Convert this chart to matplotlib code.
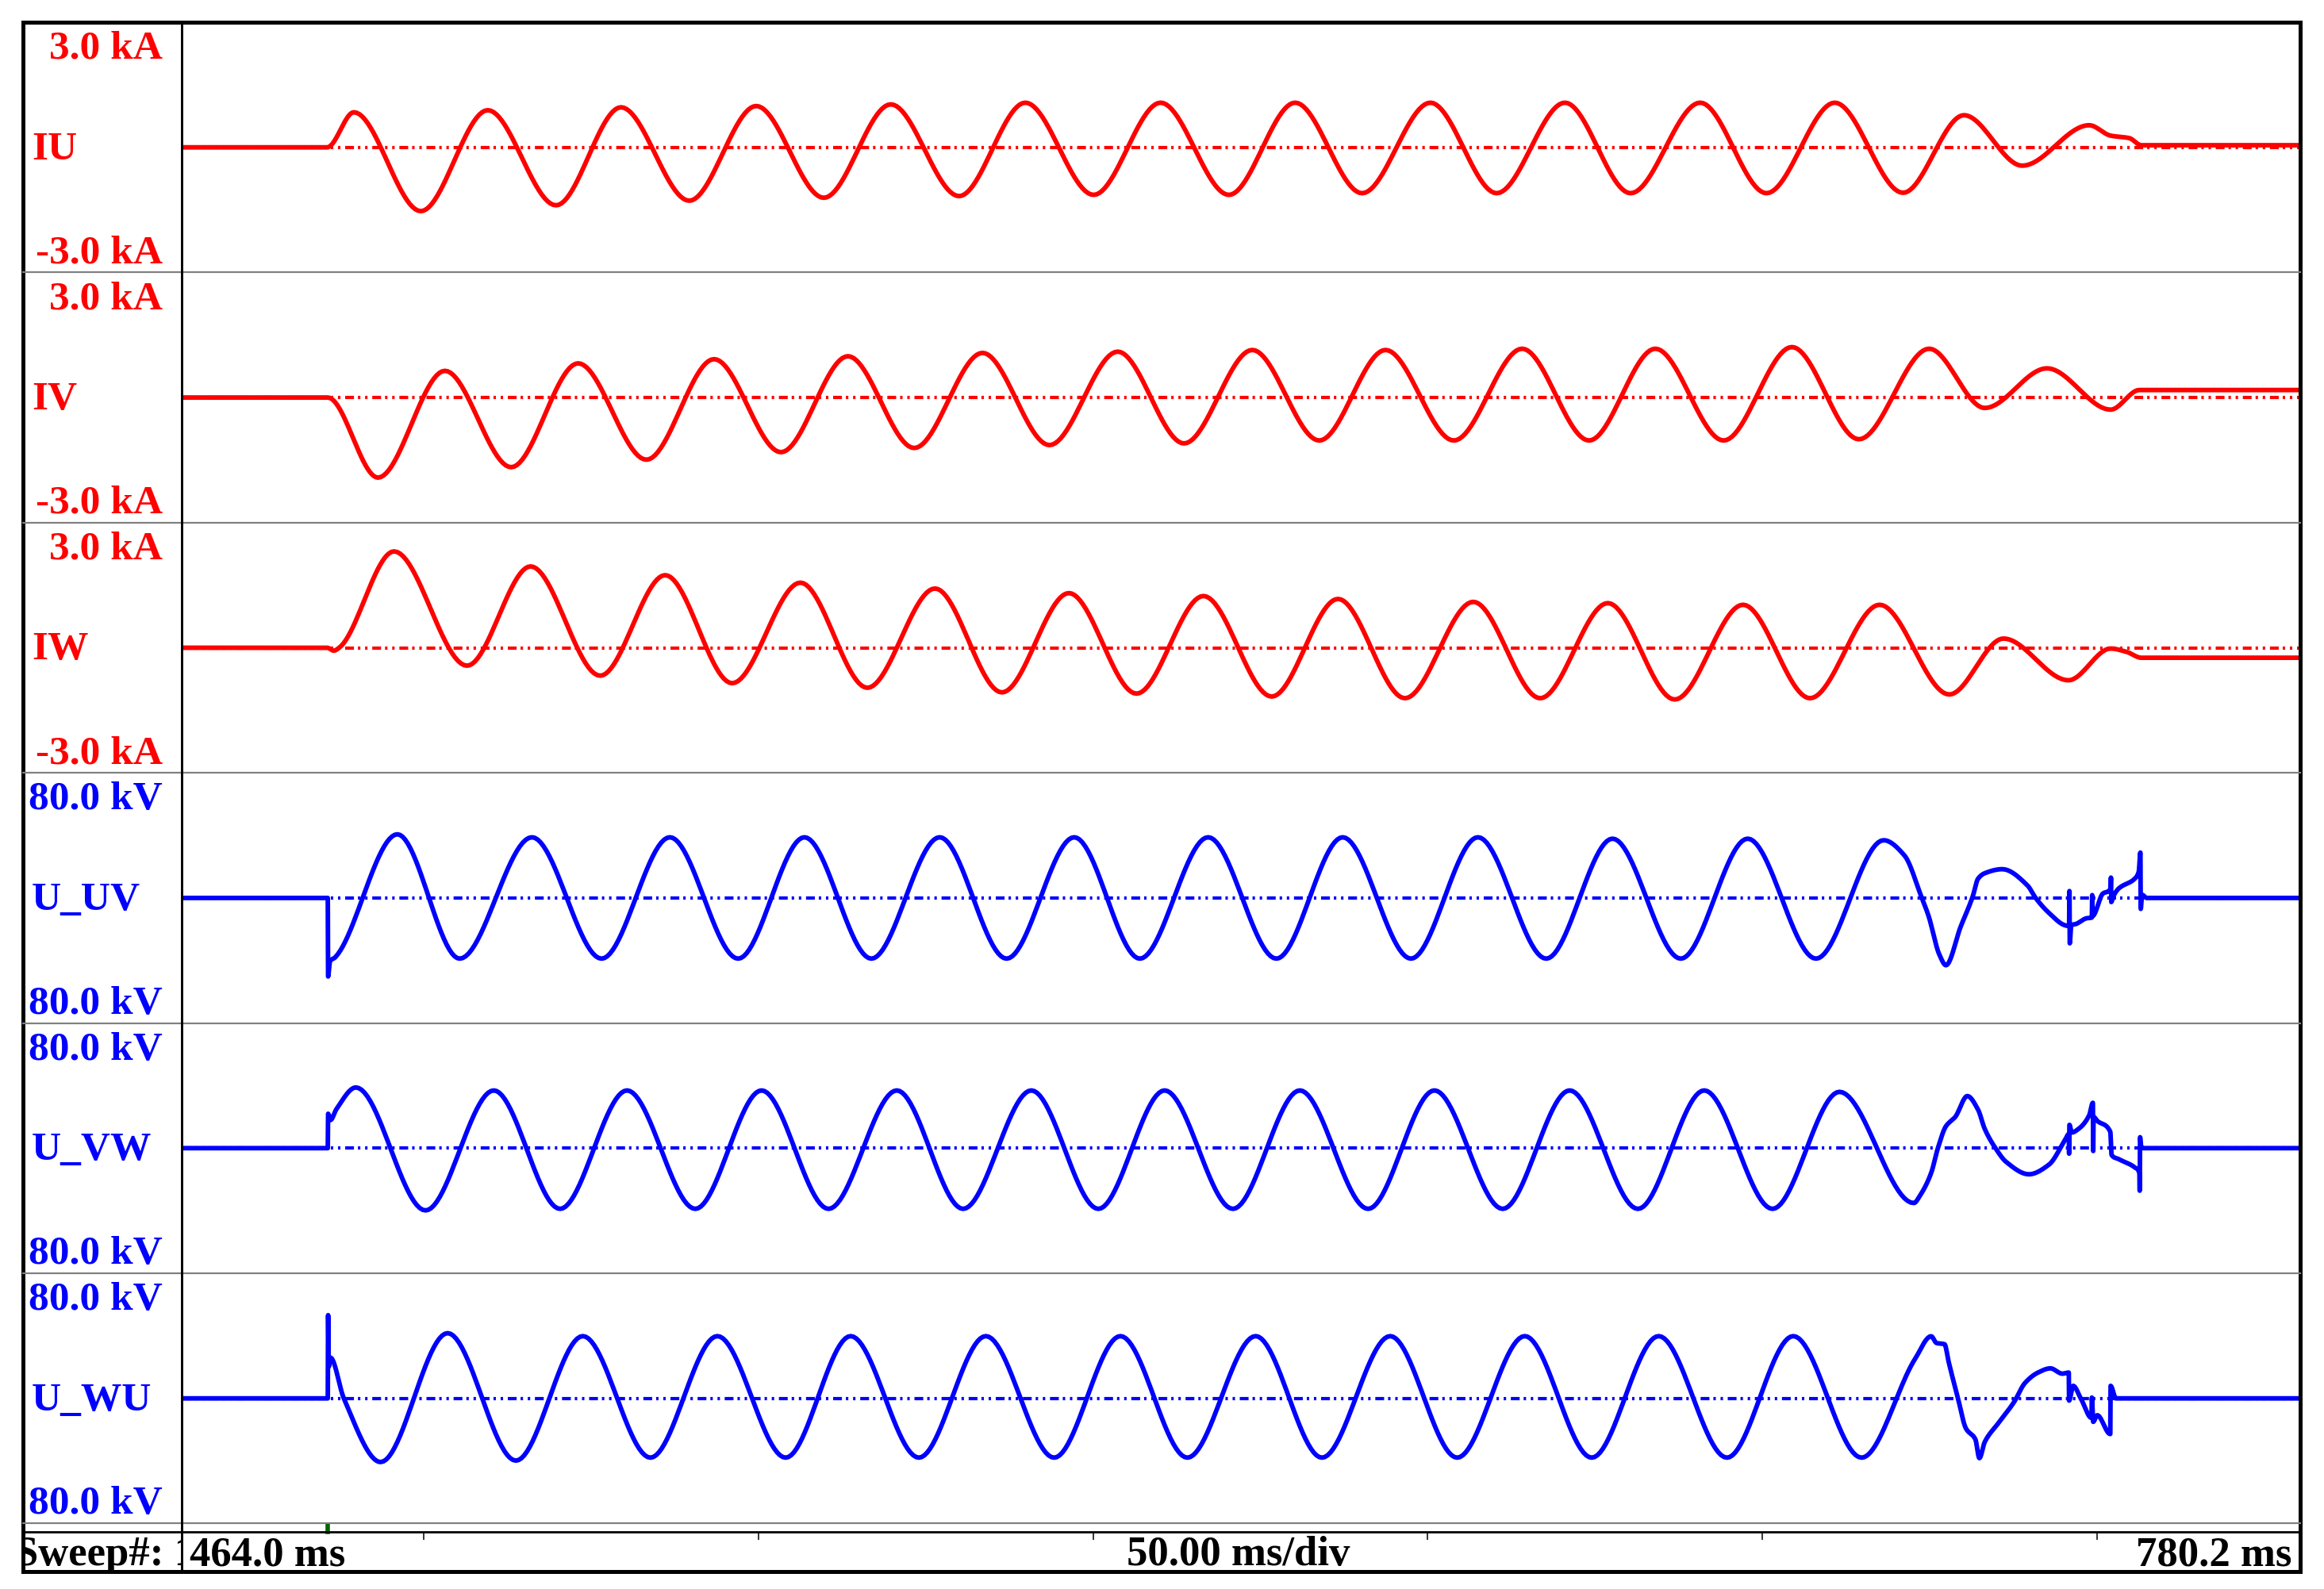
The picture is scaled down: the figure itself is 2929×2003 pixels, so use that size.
# Fault recording: phase currents IU/IV/IW and line voltages U_UV/U_VW/U_WU
import numpy as np
import matplotlib
matplotlib.use("Agg")
import matplotlib.pyplot as plt
from matplotlib.patches import Rectangle
from matplotlib.transforms import Bbox, TransformedBbox

plt.rcParams['lines.scale_dashes'] = False

# time window of the sweep (ms)
t_start = 464.0
t_end = 780.2
tick_ms = [500, 550, 600, 650, 700, 750]
trigger_ms = 485.7

# channel descriptions
names = ["IU", "IV", "IW", "U_UV", "U_VW", "U_WU"]
top_labels = ["3.0 kA", "3.0 kA", "3.0 kA", "80.0 kV", "80.0 kV", "80.0 kV"]
bottom_labels = ["-3.0 kA", "-3.0 kA", "-3.0 kA", "80.0 kV", "80.0 kV", "80.0 kV"]
full_scale = [3.0, 3.0, 3.0, 80.0, 80.0, 80.0]
colors = ["#ff0000"] * 3 + ["#0000ff"] * 3

# waveform turning points (time ms, value kA / kV)
iu_t = [464.0, 485.6, 489.6, 499.6, 509.6, 519.8, 529.5, 539.7, 549.7, 559.8, 569.8, 580.0,
        589.9, 600.1, 610.1, 620.3, 630.2, 640.2, 650.4, 660.3, 670.5, 680.3, 690.7, 700.6,
        710.8, 721.0, 730.1, 738.8, 748.8, 752.0, 754.8, 756.6, 780.2]
iu_v = [0, 0, 0.84, -1.53, 0.89, -1.39, 0.96, -1.28, 0.99, -1.21, 1.03, -1.17,
        1.07, -1.14, 1.07, -1.14, 1.07, -1.10, 1.07, -1.10, 1.07, -1.10, 1.07, -1.10,
        1.07, -1.09, 0.77, -0.44, 0.53, 0.28, 0.22, 0.05, 0.05]

iv_t = [464.0, 485.7, 493.2, 503.2, 513.1, 523.1, 533.3, 543.4, 553.4, 563.4, 573.3, 583.5,
        593.5, 603.7, 613.6, 623.8, 633.8, 643.7, 653.9, 664.1, 674.1, 684.0, 694.2, 704.4,
        714.4, 724.9, 733.2, 742.5, 752.0, 756.3, 780.2]
iv_v = [0, 0, -1.92, 0.64, -1.67, 0.82, -1.49, 0.92, -1.31, 0.99, -1.21, 1.07,
        -1.14, 1.10, -1.10, 1.14, -1.03, 1.14, -1.03, 1.17, -1.03, 1.17, -1.03, 1.21,
        -1.00, 1.17, -0.25, 0.70, -0.29, 0.18, 0.18]

iw_t = [464.0, 485.6, 486.6, 487.4, 495.6, 506.5, 516.0, 526.4, 536.1, 546.1, 556.3, 566.3,
        576.4, 586.4, 596.4, 606.5, 616.5, 626.7, 636.6, 646.6, 656.8, 666.8, 676.9, 686.9,
        697.1, 707.1, 717.5, 727.9, 736.0, 745.7, 752.0, 754.4, 756.6, 780.2]
iw_v = [0, 0, -0.07, 0, 2.31, -0.43, 1.95, -0.67, 1.74, -0.85, 1.56, -0.96,
        1.42, -1.07, 1.31, -1.10, 1.24, -1.17, 1.17, -1.21, 1.10, -1.21, 1.07, -1.24,
        1.03, -1.21, 1.03, -1.12, 0.22, -0.78, -0.02, -0.10, -0.24, -0.24]

uv_t = [464.0, 485.7, 485.75, 486.0, 486.8, 496.1, 505.4, 516.2, 526.6, 536.8, 547.0, 556.9,
        566.9, 577.1, 587.1, 597.2, 607.0, 617.2, 627.4, 637.3, 647.5, 657.5, 667.7, 677.6,
        687.8, 697.8, 708.0, 718.1, 721.2, 723.8, 724.8, 726.4, 727.4, 729.6, 731.4, 732.2,
        733.2, 735.8, 739.6, 740.8, 742.8, 745.2, 745.8, 745.85, 745.9, 746.1, 746.8, 748.4,
        749.2, 749.25, 749.3, 750.8, 752.0, 752.05, 752.1, 752.4, 753.2, 755.6, 756.2, 756.45,
        756.5, 756.7, 757.4, 780.2]
uv_v = [0, 0, -50.2, -40.7, -38.0, 40.7, -38.8, 38.8, -38.8, 38.8, -38.8, 38.8,
        -38.8, 38.8, -38.8, 38.8, -38.8, 38.8, -38.8, 38.8, -38.8, 38.8, -38.8, 37.9,
        -38.8, 37.9, -38.8, 36.9, 27.2, 0.0, -11.4, -36.0, -43.0, -18.4, 0.9, 12.3,
        15.8, 18.4, 7.9, 0.0, -9.6, -17.5, -18.0, 4.4, -29.0, -17.5, -16.7, -13.0,
        -12.5, 1.8, -11.5, 2.6, 6.0, 13.0, -2.6, 1.0, 6.0, 12.3, 16.7, 29.0,
        -7.0, 2.0, 0.0, 0.0]

vw_t = [464.0, 485.7, 485.75, 486.1, 487.0, 489.9, 500.3, 510.5, 520.4, 530.4, 540.6, 550.5,
        560.5, 570.7, 580.6, 590.8, 600.8, 610.7, 620.9, 630.9, 641.1, 651.0, 661.2, 671.2,
        681.4, 691.3, 701.5, 711.5, 722.6, 723.6, 725.2, 726.2, 727.4, 728.8, 730.6, 732.2,
        733.2, 734.8, 736.4, 739.8, 742.8, 745.2, 745.75, 745.8, 745.85, 746.2, 747.2, 748.8,
        749.35, 749.4, 749.45, 750.0, 751.95, 752.15, 753.2, 755.6, 756.3, 756.35, 756.4, 756.6,
        780.2]
vw_v = [0, 0, 22.0, 18.0, 25.0, 38.8, -39.8, 36.9, -38.8, 36.9, -38.8, 36.9,
        -38.8, 36.9, -38.8, 36.9, -38.8, 36.9, -38.8, 36.9, -38.8, 36.9, -38.8, 36.9,
        -38.8, 36.9, -38.8, 36.0, -35.1, -29.8, -15.8, 0.0, 14.0, 20.0, 33.3, 24.6,
        12.3, 0.0, -8.8, -16.7, -10.5, 5.3, 9.0, -3.5, 14.9, 10.0, 12.3, 21.0,
        29.0, -1.8, 20.0, 17.5, 10.5, -4.4, -7.0, -12.3, -16.0, -27.2, 7.0, 0.0,
        0.0]

wu_t = [464.0, 485.7, 485.75, 485.85, 486.1, 488.1, 493.6, 503.6, 513.8, 523.8, 533.9, 543.9,
        554.1, 563.8, 574.0, 584.0, 594.2, 604.1, 614.1, 624.3, 634.2, 644.4, 654.4, 664.5,
        674.5, 684.5, 694.7, 704.6, 714.8, 722.8, 725.2, 726.0, 727.2, 727.8, 729.2, 730.4,
        731.8, 732.4, 733.2, 735.2, 737.6, 739.2, 741.2, 743.0, 744.8, 745.75, 745.8, 746.4,
        747.6, 749.15, 749.2, 749.4, 750.0, 751.95, 752.0, 752.8, 780.2]
wu_v = [0, 0, 53.2, 20.3, 26.0, 0.0, -40.7, 41.7, -39.8, 39.8, -37.9, 39.8,
        -37.9, 39.8, -37.9, 39.8, -37.9, 39.8, -37.9, 39.8, -37.9, 39.8, -37.9, 39.8,
        -37.9, 39.8, -37.9, 39.8, -37.9, 25.3, 39.7, 35.4, 34.6, 23.5, 0.0, -19.3,
        -26.2, -38.2, -27.9, -16.0, -2.2, 9.8, 16.6, 19.2, 15.8, 16.5, -1.4, 8.0,
        -0.5, -12.5, 0.5, -15.0, -10.8, -22.8, 8.0, 0.0, 0.0]

traces = [(iu_t, iu_v), (iv_t, iv_v), (iw_t, iw_v), (uv_t, uv_v), (vw_t, vw_v), (wu_t, wu_v)]


# monotone cubic (pchip) through the turning points, for a smooth scope trace
def smooth_trace(t, v, per_seg=24):
    t = np.asarray(t, float)
    v = np.asarray(v, float)
    h = np.diff(t)
    d = np.diff(v) / h
    m = np.zeros_like(v)
    for k in range(1, len(v) - 1):
        if d[k - 1] * d[k] > 0:
            w1 = 2 * h[k] + h[k - 1]
            w2 = h[k] + 2 * h[k - 1]
            m[k] = (w1 + w2) / (w1 / d[k - 1] + w2 / d[k])
    s = np.linspace(0, 1, per_seg, endpoint=False)
    h00 = 2 * s**3 - 3 * s**2 + 1
    h10 = s**3 - 2 * s**2 + s
    h01 = -2 * s**3 + 3 * s**2
    h11 = s**3 - s**2
    xs, ys = [], []
    for k in range(len(h)):
        xs.append(t[k] + s * h[k])
        ys.append(h00 * v[k] + h10 * h[k] * m[k] + h01 * v[k + 1] + h11 * h[k] * m[k + 1])
    xs.append([t[-1]])
    ys.append([v[-1]])
    return np.concatenate(xs), np.concatenate(ys)


W, H = 2929, 2003
fig = plt.figure(figsize=(W / 100, H / 100), dpi=100)
fig.patch.set_facecolor("white")

# layout in pixels
frame_l, frame_r, frame_t, frame_b = 29, 2899, 28, 1981
divider_x = 228.5
plot_l, plot_r = 230, 2898
panel_h = 315.4
row_line_y = 1931

font = dict(family="Liberation Serif", weight="bold")
label_size = 37

# overlay axes in pixel coordinates for frame and labels
bg = fig.add_axes([0, 0, 1, 1])
bg.set_xlim(0, W)
bg.set_ylim(H, 0)
bg.axis("off")
bg.set_zorder(10)
bg.patch.set_visible(False)

for i in range(6):
    top = frame_t + panel_h * i
    bot = top + panel_h
    mid = (top + bot) / 2

    ax = fig.add_axes([plot_l / W, 1 - bot / H, (plot_r - plot_l) / W, panel_h / H])
    ax.set_xlim(t_start, t_end)
    ax.set_ylim(-full_scale[i], full_scale[i])
    ax.axis("off")
    ax.axhline(0, color=colors[i], lw=3.0, dashes=(8, 3.6, 2.2, 4.3, 2.2, 4.3))
    x, y = smooth_trace(*traces[i])
    ax.plot(x, y, color=colors[i], lw=4.2, solid_joinstyle="round")

    # separator below each channel
    bg.plot([frame_l, frame_r], [bot, bot], color="#808080", lw=1.6)

    bg.text(205, top + 46, top_labels[i], ha="right", va="baseline",
            color=colors[i], fontsize=label_size, **font)
    bg.text(205, bot - 12, bottom_labels[i], ha="right", va="baseline",
            color=colors[i], fontsize=label_size, **font)
    bg.text(40, mid + 15, names[i], ha="left", va="baseline",
            color=colors[i], fontsize=label_size, **font)

# frame, label column divider and time row line
bg.add_patch(Rectangle((frame_l, frame_t), frame_r - frame_l, frame_b - frame_t,
                       fill=False, ec="black", lw=3.6))
bg.plot([divider_x, divider_x], [frame_t, frame_b], color="black", lw=2.1)
bg.plot([frame_l, frame_r], [row_line_y, row_line_y], color="black", lw=2.0)

# bottom time row; the sweep number is cut off by its cell
sweep = bg.text(19, 1973, "Sweep#: 1", ha="left", va="baseline", color="black",
                fontsize=38, **font)
cell = Bbox([[(frame_l + 2) / W, 1 - frame_b / H], [(divider_x - 1) / W, 1 - row_line_y / H]])
sweep.set_clip_box(TransformedBbox(cell, fig.transFigure))
sweep.set_clip_on(True)
bg.text(239, 1973, "%.1f ms" % t_start, ha="left", va="baseline", color="black",
        fontsize=38, **font)
bg.text(1561, 1973, "50.00 ms/div", ha="center", va="baseline", color="black",
        fontsize=38, **font)
bg.text(2888, 1973, "%.1f ms" % t_end, ha="right", va="baseline", color="black",
        fontsize=38, **font)

# division ticks hanging from the time row line, plus trigger mark
tk = fig.add_axes([plot_l / W, 1 - frame_b / H, (plot_r - plot_l) / W, (frame_b - row_line_y) / H])
tk.set_xlim(t_start, t_end)
tk.set_ylim(0, 1)
tk.set_xticks(tick_ms)
tk.set_yticks([])
tk.tick_params(axis="x", direction="in", top=True, bottom=False, labeltop=False,
               labelbottom=False, length=7, width=1.1, color="black")
for sp in tk.spines.values():
    sp.set_visible(False)
tk.patch.set_visible(False)
tk.axvline(trigger_ms, ymin=1.0, ymax=1.18, clip_on=False, color="#006400", lw=4)

fig.savefig("out.png", dpi=100, facecolor="white")
